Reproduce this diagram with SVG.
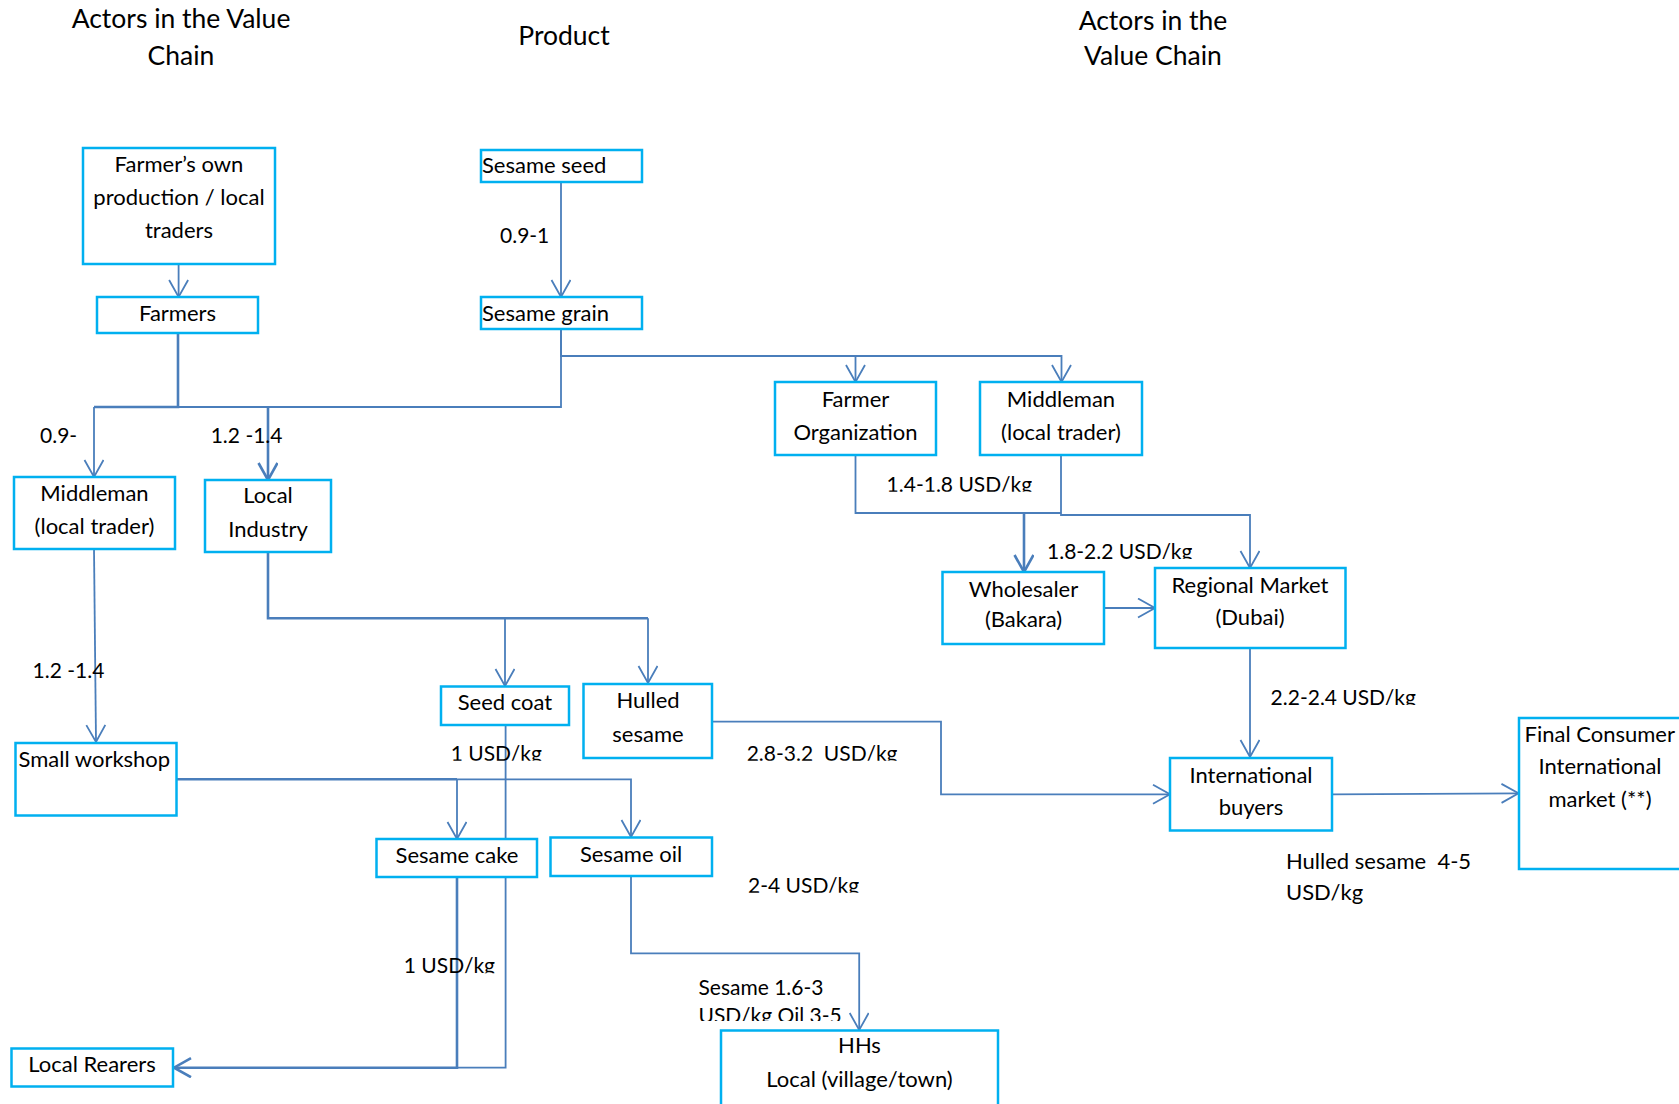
<svg xmlns="http://www.w3.org/2000/svg" width="1679" height="1104" viewBox="0 0 1679 1104">
<style>
text{font-family:Lato,"Liberation Sans",sans-serif;fill:#000;font-size:22px}
.t{font-size:26.5px}
.m{text-anchor:middle}
.n{font-size:21px}
.box{fill:#fff;stroke:#00B0F0;stroke-width:2.5}
.c{fill:none;stroke:#4A7EBB;stroke-width:1.8}
.k{stroke-width:2.6}
</style>
<defs>
<marker id="a" markerUnits="userSpaceOnUse" markerWidth="22" markerHeight="22" viewBox="0 0 22 22" refX="18" refY="10" orient="auto">
<path d="M1,0.5 L18,10 L1,19.5" fill="none" stroke="#4A7EBB" stroke-width="1.8"/>
</marker>
<marker id="ab" markerUnits="userSpaceOnUse" markerWidth="22" markerHeight="22" viewBox="0 0 22 22" refX="18" refY="10" orient="auto">
<path d="M1,0.5 L18,10 L1,19.5" fill="none" stroke="#4A7EBB" stroke-width="2.6"/>
</marker>
<clipPath id="cut" clipPathUnits="objectBoundingBox"><rect x="0" y="0" width="1" height="0.84"/></clipPath>
<clipPath id="cut2"><rect x="690" y="1000" width="200" height="21"/></clipPath>
</defs>
<rect width="1679" height="1104" fill="#fff"/>

<g id="titles">
<text class="t m" x="181" y="28">Actors in the Value</text>
<text class="t m" x="181" y="65">Chain</text>
<text class="t m" x="564" y="45">Product</text>
<text class="t m" x="1153" y="30">Actors in the</text>
<text class="t m" x="1153" y="65">Value Chain</text>
</g>

<g id="connectors">
<path class="c" d="M178.6,264 V297" marker-end="url(#a)"/>
<path class="c" d="M561,182 V297" marker-end="url(#a)"/>
<path class="c k" d="M178,333 V407 H94"/>
<path class="c" d="M94,407 V477" marker-end="url(#a)"/>
<path class="c" d="M561,329 V407 H178"/>
<path class="c k" d="M268,407 V480" marker-end="url(#ab)"/>
<path class="c" d="M561,329 V356 H1061.5 V382" marker-end="url(#a)"/>
<path class="c" d="M855.5,356 V382" marker-end="url(#a)"/>
<path class="c" d="M855.5,455 V513 H1061"/>
<path class="c" d="M1061,455 V515 H1250 V568" marker-end="url(#a)"/>
<path class="c k" d="M1024,513 V572" marker-end="url(#ab)"/>
<path class="c" d="M1104,608 H1155" marker-end="url(#a)"/>
<path class="c" d="M1250,648 V757" marker-end="url(#a)"/>
<path class="c" d="M712,721.7 H941 V794.3 H1170" marker-end="url(#a)"/>
<path class="c" d="M1332,794.3 L1518.5,793.3" marker-end="url(#a)"/>
<path class="c k" d="M268,552 V618.3 H648"/>
<path class="c" d="M648,618.3 V683" marker-end="url(#a)"/>
<path class="c" d="M505,618.3 V686" marker-end="url(#a)"/>
<path class="c" d="M94,549 L96,742" marker-end="url(#a)"/>
<path class="c k" d="M177,779.3 H457"/>
<path class="c" d="M457,779.3 H631 V837" marker-end="url(#a)"/>
<path class="c" d="M457,779.3 V839" marker-end="url(#a)"/>
<path class="c" d="M505.6,725 V1067.7 H457"/>
<path class="c k" d="M457,877 V1067.7 H174" marker-end="url(#ab)"/>
<path class="c" d="M631,876 V953.3 H859.2 V1030" marker-end="url(#a)"/>
</g>

<g id="n-farmers-own">
<rect class="box" x="83" y="148" width="192" height="116"/>
<text class="m" x="179" y="172">Farmer’s own</text>
<text class="m" x="179" y="205">production / local</text>
<text class="m" x="179" y="238">traders</text>
</g>
<g id="n-farmers">
<rect class="box" x="97" y="297" width="161" height="36"/>
<text class="m" x="177.5" y="321">Farmers</text>
</g>
<g id="n-sesame-seed">
<rect class="box" x="481" y="150" width="161" height="32"/>
<text x="482" y="173">Sesame seed</text>
</g>
<g id="n-sesame-grain">
<rect class="box" x="481" y="297" width="161" height="32"/>
<text x="482" y="321">Sesame grain</text>
</g>
<g id="n-middleman-left">
<rect class="box" x="14" y="477" width="161" height="72"/>
<text class="m" x="94.5" y="501">Middleman</text>
<text class="m" x="94.5" y="534">(local trader)</text>
</g>
<g id="n-local-industry">
<rect class="box" x="205" y="480" width="126" height="72"/>
<text class="m" x="268" y="503">Local</text>
<text class="m" x="268" y="536.5">Industry</text>
</g>
<g id="n-farmer-org">
<rect class="box" x="775" y="382" width="161" height="73"/>
<text class="m" x="855.5" y="407">Farmer</text>
<text class="m" x="855.5" y="440">Organization</text>
</g>
<g id="n-middleman-right">
<rect class="box" x="980" y="382" width="162" height="73"/>
<text class="m" x="1061" y="407">Middleman</text>
<text class="m" x="1061" y="440">(local trader)</text>
</g>
<g id="n-wholesaler">
<rect class="box" x="942.5" y="572" width="161.5" height="72"/>
<text class="m" x="1023.5" y="596.5">Wholesaler</text>
<text class="m" x="1023.5" y="627">(Bakara)</text>
</g>
<g id="n-regional">
<rect class="box" x="1155" y="568" width="190.5" height="80"/>
<text class="m" x="1250" y="593">Regional Market</text>
<text class="m" x="1250" y="625">(Dubai)</text>
</g>
<g id="n-intl-buyers">
<rect class="box" x="1170" y="758" width="162" height="72.5"/>
<text class="m" x="1251" y="782.5">International</text>
<text class="m" x="1251" y="815">buyers</text>
</g>
<g id="n-final">
<rect class="box" x="1519" y="718" width="164" height="151"/>
<text x="1524.5" y="741.5">Final Consumer</text>
<text class="m" x="1600" y="774">International</text>
<text class="m" x="1600" y="806.5">market (**)</text>
</g>
<g id="n-seed-coat">
<rect class="box" x="441" y="686.5" width="128" height="38.5"/>
<text class="m" x="505" y="710">Seed coat</text>
</g>
<g id="n-hulled">
<rect class="box" x="583.5" y="684" width="128.5" height="74"/>
<text class="m" x="648" y="708">Hulled</text>
<text class="m" x="648" y="741.5">sesame</text>
</g>
<g id="n-small-workshop">
<rect class="box" x="15.5" y="743" width="161" height="72.5"/>
<text x="18.5" y="766.5">Small workshop</text>
</g>
<g id="n-sesame-cake">
<rect class="box" x="376.5" y="839" width="160.5" height="38"/>
<text class="m" x="457" y="862.5">Sesame cake</text>
</g>
<g id="n-sesame-oil">
<rect class="box" x="550.5" y="837.5" width="161.5" height="38.5"/>
<text class="m" x="631" y="861.5">Sesame oil</text>
</g>
<g id="n-local-rearers">
<rect class="box" x="11.5" y="1048.5" width="161.5" height="38"/>
<text class="m" x="92" y="1071.5">Local Rearers</text>
</g>
<g id="n-hhs">
<rect class="box" x="721" y="1030.5" width="277" height="80"/>
<text class="m" x="859.5" y="1053">HHs</text>
<text class="m" x="859.5" y="1086.5">Local (village/town)</text>
</g>

<g id="labels">
<text class="n" x="500" y="243">0.9-1</text>
<text class="n" x="40" y="443">0.9-</text>
<text class="n" x="210.7" y="443">1.2 -1.4</text>
<text class="n" x="32.6" y="678">1.2 -1.4</text>
<text class="n" x="886.6" y="491.7" clip-path="url(#cut)">1.4-1.8 USD/kg</text>
<text class="n" x="1047" y="559" clip-path="url(#cut)">1.8-2.2 USD/kg</text>
<text class="n" x="1270.6" y="705" clip-path="url(#cut)">2.2-2,4 USD/kg</text>
<text class="n" x="450.7" y="760.7" clip-path="url(#cut)">1 USD/kg</text>
<text class="n" x="746.7" y="760.7" xml:space="preserve" clip-path="url(#cut)">2.8-3.2  USD/kg</text>
<text class="n" x="748" y="892.7" clip-path="url(#cut)">2-4 USD/kg</text>
<text class="n" x="403.8" y="973.3" clip-path="url(#cut)">1 USD/kg</text>
<text class="n" x="698.5" y="995">Sesame 1.6-3</text>
<text class="n" x="698.5" y="1023" clip-path="url(#cut2)">USD/kg Oil 3-5</text>
<text x="1286" y="869" xml:space="preserve">Hulled sesame  4-5</text>
<text x="1286" y="900">USD/kg</text>
</g>
</svg>
